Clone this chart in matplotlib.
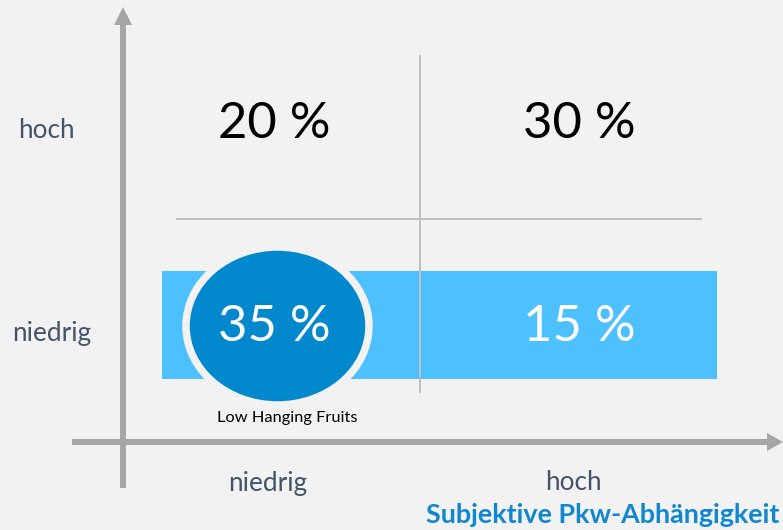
import numpy as np
import matplotlib.pyplot as plt
from matplotlib.patches import Rectangle, Ellipse, Polygon

# Data
x_categories = ["niedrig", "hoch"]
y_categories = ["niedrig", "hoch"]
# shares per quadrant, rows = y category (niedrig, hoch), cols = x category
shares = [[35, 15],
          [20, 30]]
x_title = "Subjektive Pkw-Abhängigkeit"
highlight_label = "Low Hanging Fruits"

FONT = ["Lato", "DejaVu Sans"]
BG = "#f2f2f2"
AXIS_GREY = "#a6a6a6"
DIV_GREY = "#bfbfbf"
LABEL_COL = "#44546a"
BAND_COL = "#4dc0ff"
CIRCLE_COL = "#0288cc"
TITLE_COL = "#1187cf"

fig = plt.figure(figsize=(7.83, 5.30), dpi=100, facecolor=BG)
ax = fig.add_axes([0, 0, 1, 1])
ax.set_xlim(0, 783)
ax.set_ylim(530, 0)
ax.axis("off")
ax.set_facecolor(BG)

# layout in pixel space
col_x = [275, 580]
row_y = [325, 122]
px = 100 / 72.0  # pixels per point

# highlighted band for the "niedrig" row
ax.add_patch(Rectangle((162, 271), 717 - 162, 379 - 271, color=BAND_COL, lw=0, zorder=1))

# quadrant dividers
ax.plot([420, 420], [55, 393], color=DIV_GREY, lw=2 / px, zorder=2, solid_capstyle="butt")
ax.plot([176, 702], [219, 219], color=DIV_GREY, lw=2 / px, zorder=2, solid_capstyle="butt")

# low hanging fruits ellipse
ax.add_patch(Ellipse((277.5, 326), 183, 158, facecolor=CIRCLE_COL,
                     edgecolor="#f2f2f2", lw=7.5 / px, zorder=3))

# axes arrows
ax.plot([123, 123], [488, 22], color=AXIS_GREY, lw=6 / px, solid_capstyle="butt", zorder=4)
ax.add_patch(Polygon([[114, 25], [132, 25], [123, 7]], closed=True, color=AXIS_GREY, lw=0, zorder=4))
ax.plot([72, 769], [442, 442], color=AXIS_GREY, lw=6 / px, solid_capstyle="butt", zorder=4)
ax.add_patch(Polygon([[767, 433], [767, 451], [783, 442]], closed=True, color=AXIS_GREY, lw=0, zorder=4))

# quadrant values
for i, row in enumerate(shares):
    for j, val in enumerate(row):
        col = "white" if i == 0 else "black"
        ax.text(col_x[j] - 1, row_y[i] + 2, f"{val} %", ha="center", va="center",
                fontsize=36.5, color=col, family=FONT, zorder=5)

# category labels
for i, lab in enumerate(y_categories):
    ax.text(12 if lab == "niedrig" else 18, row_y[i] + 8, lab, ha="left", va="center",
            fontsize=18.8, color=LABEL_COL, family=FONT)
for j, lab in enumerate(x_categories):
    ax.text(col_x[j] - 7, 483, lab, ha="center", va="center",
            fontsize=18.8, color=LABEL_COL, family=FONT)

ax.text(287, 418, highlight_label, ha="center", va="center", fontsize=11.8,
        color="black", family=FONT)
ax.text(779, 515, x_title, ha="right", va="center", fontsize=19.4,
        fontweight="bold", color=TITLE_COL, family=FONT)

fig.savefig("out.png", dpi=100, facecolor=BG)
